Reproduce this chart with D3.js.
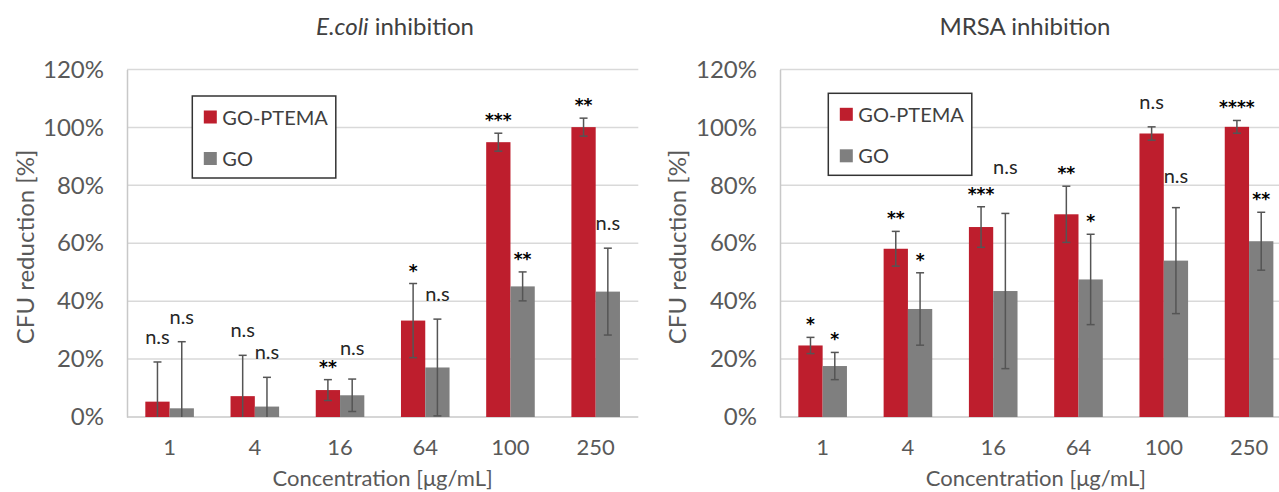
<!DOCTYPE html>
<html>
<head>
<meta charset="utf-8">
<script src="https://cdn.jsdelivr.net/npm/d3@7/dist/d3.min.js"></script>
<style>
  html, body { margin: 0; padding: 0; background: #fff; }
  svg { display: block; }
</style>
</head>
<body>
<svg id="chart" width="1279" height="492"></svg>
<script>
// Concentrations tested and y-axis ticks (%)
const concentrations = ["1", "4", "16", "64", "100", "250"];
const yTicks = [0, 20, 40, 60, 80, 100, 120];
const seriesNames = ["GO-PTEMA", "GO"];

// E. coli: CFU reduction (%) with standard deviation
const ecoliPtema    = [5.3, 7.2, 9.3, 33.3, 94.9, 100.1];
const ecoliPtemaErr = [13.7, 14.1, 3.6, 12.8, 3.1, 3.1];
const ecoliGo       = [3.0, 3.6, 7.5, 17.1, 45.1, 43.3];
const ecoliGoErr    = [23.0, 10.1, 5.6, 16.7, 5.0, 15.0];
const ecoliPtemaSig = ["n.s", "n.s", "**", "*", "***", "**"];
const ecoliGoSig    = ["n.s", "n.s", "n.s", "n.s", "**", "n.s"];

// MRSA: CFU reduction (%) with standard deviation
const mrsaPtema    = [24.7, 58.1, 65.6, 70.0, 97.9, 100.2];
const mrsaPtemaErr = [2.8, 6.0, 7.0, 9.7, 2.3, 2.2];
const mrsaGo       = [17.6, 37.3, 43.5, 47.5, 54.0, 60.7];
const mrsaGoErr    = [4.7, 12.5, 26.8, 15.6, 18.3, 10.0];
const mrsaPtemaSig = ["*", "**", "***", "**", "n.s", "****"];
const mrsaGoSig    = ["*", "*", "n.s", "*", "n.s", "**"];

const colors = { "GO-PTEMA": "#be1e2d", "GO": "#7f7f7f" };
const FONT = "Lato, 'Open Sans', sans-serif";

// Panel layout; labelLift raises individual significance labels (px) so they clear their neighbours
const panels = [
  {
    titleItalic: "E.coli", titleRest: " inhibition",
    values: [ecoliPtema, ecoliGo], errors: [ecoliPtemaErr, ecoliGoErr], sig: [ecoliPtemaSig, ecoliGoSig],
    left: 127, right: 638.3, yAxisTitleX: 24, titleX: 395, legend: { x: 192.3, y: 96 },
    labelLift: { "GO|16": 6 }
  },
  {
    titleItalic: "", titleRest: "MRSA inhibition",
    values: [mrsaPtema, mrsaGo], errors: [mrsaPtemaErr, mrsaGoErr], sig: [mrsaPtemaSig, mrsaGoSig],
    left: 780, right: 1291.7, yAxisTitleX: 676, titleX: 1025, legend: { x: 828.3, y: 93.3 },
    labelLift: { "GO|16": 21, "GO|100": 7 }
  }
];

const svg = d3.select("#chart");
svg.append("rect").attr("width", 1279).attr("height", 492).attr("fill", "#fff");

const plotTop = 69.5, plotBottom = 417;

panels.forEach(p => {
  const g = svg.append("g");
  const x0 = d3.scaleBand().domain(concentrations).range([p.left, p.right]).paddingInner(0.43).paddingOuter(0.215);
  const x1 = d3.scaleBand().domain(seriesNames).range([0, x0.bandwidth()]);
  const y = d3.scaleLinear().domain([0, 120]).range([plotBottom, plotTop]);

  // gridlines
  g.append("g").selectAll("line").data(yTicks.filter(t => t > 0)).join("line")
    .attr("x1", p.left).attr("x2", p.right)
    .attr("y1", d => y(d)).attr("y2", d => y(d))
    .attr("stroke", "#d9d9d9").attr("stroke-width", 1.5);

  // y axis labels
  const yAxis = d3.axisLeft(y).tickValues(yTicks).tickFormat(d => d + "%").tickSize(0).tickPadding(23);
  const ya = g.append("g").attr("transform", `translate(${p.left},0)`).call(yAxis);
  ya.select(".domain").attr("stroke", "#c8c8c8").attr("stroke-width", 1.5);
  ya.selectAll("text").attr("font-family", FONT).attr("font-size", 24).attr("fill", "#595959");

  // x axis
  const xAxis = d3.axisBottom(x0).tickSize(0).tickPadding(22);
  const xa = g.append("g").attr("transform", `translate(0,${plotBottom})`).call(xAxis);
  xa.select(".domain").attr("stroke", "#c8c8c8").attr("stroke-width", 1.5).attr("d", `M${p.left},0H${p.right}`);
  xa.selectAll("text").attr("font-family", FONT).attr("font-size", 22).attr("fill", "#595959");

  // bars + error bars + significance labels
  seriesNames.forEach((name, si) => {
    const vals = p.values[si], errs = p.errors[si], sig = p.sig[si];
    const cx = i => x0(concentrations[i]) + x1(name) + x1.bandwidth() / 2;
    const idx = d3.range(concentrations.length);

    g.append("g").selectAll("rect").data(idx).join("rect")
      .attr("x", i => x0(concentrations[i]) + x1(name))
      .attr("width", x1.bandwidth())
      .attr("y", i => y(vals[i]))
      .attr("height", i => y(0) - y(vals[i]))
      .attr("fill", colors[name]);

    const eb = g.append("g").attr("stroke", "#555").attr("stroke-width", 1.5);
    idx.forEach(i => {
      const hi = vals[i] + errs[i];
      const lo = Math.max(0, vals[i] - errs[i]);
      const x = cx(i);
      eb.append("line").attr("x1", x).attr("x2", x).attr("y1", y(hi)).attr("y2", y(lo));
      eb.append("line").attr("x1", x - 4).attr("x2", x + 4).attr("y1", y(hi)).attr("y2", y(hi));
      if (vals[i] - errs[i] > 0) {
        eb.append("line").attr("x1", x - 4).attr("x2", x + 4).attr("y1", y(lo)).attr("y2", y(lo));
      }
    });

    const isNs = i => sig[i] === "n.s";
    g.append("g").selectAll("text").data(idx).join("text")
      .attr("x", i => cx(i))
      .attr("y", i => y(vals[i] + errs[i]) - (isNs(i) ? 18 : 7) - (p.labelLift[name + "|" + concentrations[i]] || 0))
      .attr("text-anchor", "middle")
      .attr("font-family", i => isNs(i) ? FONT : "'DejaVu Sans', sans-serif")
      .attr("font-weight", i => isNs(i) ? 400 : 700)
      .attr("font-size", i => isNs(i) ? 20 : 17)
      .attr("fill", i => isNs(i) ? "#262626" : "#000")
      .text(i => sig[i]);
  });

  // legend
  const lg = g.append("g").attr("transform", `translate(${p.legend.x},${p.legend.y})`);
  lg.append("rect").attr("width", 143.5).attr("height", 82).attr("fill", "#fff")
    .attr("stroke", "#333").attr("stroke-width", 1.5);
  seriesNames.forEach((name, i) => {
    lg.append("rect").attr("x", 11.5).attr("y", 14.5 + i * 41.5).attr("width", 13).attr("height", 13).attr("fill", colors[name]);
    lg.append("text").attr("x", 30).attr("y", 29 + i * 41)
      .attr("font-family", FONT).attr("font-size", 20).attr("fill", "#404040").text(name);
  });

  // chart title
  const t = g.append("text").attr("x", p.titleX).attr("y", 35).attr("text-anchor", "middle")
    .attr("font-family", FONT).attr("font-size", 24).attr("fill", "#404040");
  if (p.titleItalic) t.append("tspan").attr("font-style", "italic").text(p.titleItalic);
  t.append("tspan").text(p.titleRest);

  // axis titles
  g.append("text").attr("transform", `translate(${p.yAxisTitleX},247) rotate(-90)`)
    .attr("text-anchor", "middle").attr("dominant-baseline", "central")
    .attr("font-family", FONT).attr("font-size", 24).attr("fill", "#595959")
    .text("CFU reduction [%]");
  g.append("text").attr("x", (p.left + p.right) / 2).attr("y", 486)
    .attr("text-anchor", "middle")
    .attr("font-family", FONT).attr("font-size", 22).attr("fill", "#595959")
    .text("Concentration [μg/mL]");
});
</script>
</body>
</html>
